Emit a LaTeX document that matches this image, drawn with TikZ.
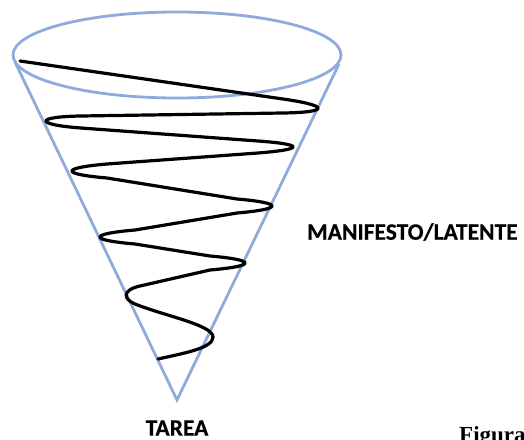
\documentclass[tikz,border=0pt]{standalone}
\usepackage{fontspec}
\newfontfamily\carlito[BoldFeatures={FakeBold=0.4}]{Carlito}
\newfontfamily\timesf{Liberation Serif}
\definecolor{conoblue}{HTML}{8FAADC}
\begin{document}
\begin{tikzpicture}[x=1pt,y=-1pt,
  cono/.style={draw=conoblue,line width=2.8pt},
  espiral/.style={draw=black,line width=3.2pt,line cap=round,line join=round},
  etiqueta/.style={font=\carlito\bfseries\fontsize{23.5}{28}\selectfont,inner sep=0pt}]
\useasboundingbox (0,0) rectangle (524,439);
% cone
\coordinate (apex) at (177,400);
\coordinate (tl) at (15,62);
\coordinate (tr) at (339,64);
\draw[cono] (tl) -- (apex) -- (tr);
\draw[cono] (177,55) ellipse [x radius=164, y radius=43];
% spiral
\coordinate (s0) at (20,61);
\coordinate (e0) at (158,359);
\draw[espiral]
 (s0) -- (283,99)
 .. controls (329.7,105.7) and (329.7,112.3) .. (283,113)
 -- (81,116) .. controls (34.3,116.7) and (34.3,124.6) .. (81,128)
 -- (258,141) .. controls (304.7,144.4) and (304.7,149.3) .. (258,153)
 -- (107,164) .. controls (60.3,168) and (60.3,174) .. (107,178)
 -- (237,199) .. controls (283.7,203) and (283.7,209) .. (237,213)
 -- (135,230) .. controls (88.3,234) and (88.3,240) .. (135,244)
 -- (210,256) .. controls (256.7,260) and (256.7,266) .. (210,270)
 -- (140,286)
 .. controls (122,290) and (123,299) .. (135,304)
 .. controls (165,316) and (213,325) .. (213,337)
 .. controls (213,348) and (185,353) .. (e0);
% labels
\node[etiqueta,anchor=west] (manif) at (307,232) {MANIFESTO/LATENTE};
\node[etiqueta] (tarea) at (177,428) {TAREA};
\node[font=\timesf\bfseries\fontsize{23}{26}\selectfont,anchor=base west,inner sep=0pt] (fig) at (459,442.5) {Figura};
\end{tikzpicture}
\end{document}
